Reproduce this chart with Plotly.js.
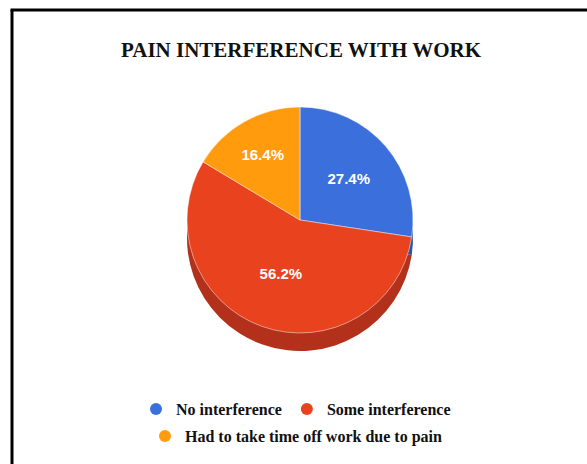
<!DOCTYPE html>
<html>
<head>
<meta charset="utf-8">
<script src="https://cdn.plot.ly/plotly-3.0.1.min.js"></script>
<style>html,body{margin:0;padding:0;background:#fff;}#chart{width:587px;height:464px;}</style>
</head>
<body>
<div id="chart"></div>
<script>
// Data
const categories = ["No interference", "Some interference", "Had to take time off work due to pain"];
const values = [27.4, 56.2, 16.4];
const colors = ["#3b6fdc", "#e8431e", "#ff9b0c"];
const sideColors = ["#2b53a8", "#b3311a", "#c47508"];
const legendGroupOf = ["legend", "legend", "legend2"];

const W = 587, H = 464;
const cx = 300, cy = 220, r = 113, depth = 18;
function dom(cxp, cyp) {
  return {
    x: [(cxp - r) / W, (cxp + r) / W],
    y: [(H - (cyp + r)) / H, (H - (cyp - r)) / H]
  };
}

const traces = [];
// side (depth) of the 3D pie
traces.push({
  type: "pie", values: values, labels: categories, sort: false,
  direction: "clockwise", rotation: 0,
  marker: {colors: sideColors, line: {width: 0}},
  textinfo: "none", hoverinfo: "skip", showlegend: false,
  domain: dom(cx, cy + depth)
});
// top face
traces.push({
  type: "pie", values: values, labels: categories, sort: false,
  direction: "clockwise", rotation: 0,
  marker: {colors: colors, line: {color: "rgba(255,255,255,0.6)", width: 0.8}},
  texttemplate: "%{value:.1f}%", textposition: "inside",
  insidetextorientation: "horizontal",
  textfont: {family: "Liberation Sans, Arial, sans-serif", size: 15, color: "#ffffff", weight: "bold"},
  showlegend: false,
  domain: dom(cx, cy)
});
// legend entries (circle markers)
categories.forEach((c, i) => {
  traces.push({
    type: "scatter", mode: "markers", x: [null], y: [null], name: c,
    marker: {color: colors[i], size: 12, symbol: "circle"},
    legend: legendGroupOf[i], hoverinfo: "skip"
  });
});

const legendFont = {family: "Liberation Serif, Times New Roman, serif", size: 16, color: "#111", weight: "bold"};
const layout = {
  width: W, height: H,
  margin: {l: 0, r: 0, t: 0, b: 0},
  paper_bgcolor: "#ffffff", plot_bgcolor: "#ffffff",
  title: {
    text: "PAIN INTERFERENCE WITH WORK",
    font: {family: "Liberation Serif, Times New Roman, serif", size: 21, color: "#111", weight: "bold"},
    x: 301 / W, xanchor: "center", xref: "paper",
    y: 1 - 50 / H, yanchor: "middle", yref: "container"
  },
  xaxis: {visible: false}, yaxis: {visible: false},
  showlegend: true,
  legend: {orientation: "h", x: 296 / W, xanchor: "center", y: (H - 409) / H, yanchor: "middle",
           font: legendFont, itemclick: false, bgcolor: "rgba(0,0,0,0)", tracegroupgap: 0},
  legend2: {orientation: "h", x: 296 / W, xanchor: "center", y: (H - 436) / H, yanchor: "middle",
            font: legendFont, itemclick: false, bgcolor: "rgba(0,0,0,0)"},
  shapes: [
    {type: "line", xref: "paper", yref: "paper", x0: 12 / W, x1: 12 / W, y0: -0.1, y1: 1 - 10 / H,
     line: {color: "#000", width: 3}},
    {type: "line", xref: "paper", yref: "paper", x0: 12 / W - 1.5 / W, x1: 1.1, y0: 1 - 10 / H, y1: 1 - 10 / H,
     line: {color: "#000", width: 3}}
  ]
};
Plotly.newPlot("chart", traces, layout, {staticPlot: true, displayModeBar: false});
</script>
</body>
</html>
